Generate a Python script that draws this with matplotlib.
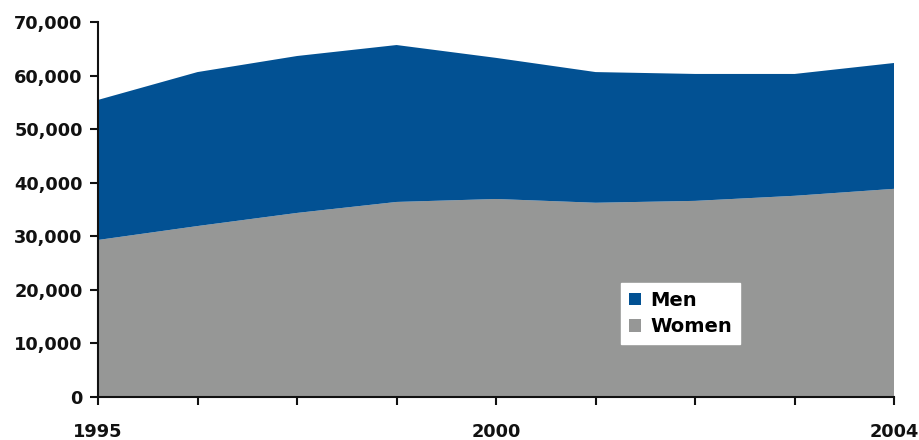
import matplotlib.pyplot as plt
import numpy as np

years = ["1995", "", "", "", "2000", "", "", "", "2004"]
women = [29300, 31900, 34350, 36400, 36950, 36250, 36600, 37550, 38850]
total = [55450, 60650, 63650, 65700, 63300, 60650, 60300, 60300, 62350]
men = [t - w for t, w in zip(total, women)]

plt.rcParams['font.family'] = ['DejaVu Sans']
plt.rcParams['font.weight'] = 'bold'

fig = plt.figure(figsize=(9.2, 4.4), dpi=100)
ax = fig.add_axes([0.1065, 0.098, 0.8655, 0.852])

x = np.arange(len(years))
ax.stackplot(x, women, men, colors=["#969796", "#025193"],
             labels=["Women", "Men"], lw=0)

ax.set_xlim(0, len(years) - 1)
ax.set_ylim(0, 70000)
ax.set_xticks(x)
ax.set_xticklabels(years)
ax.set_yticks(np.arange(0, 70001, 10000))
ax.set_yticklabels(["{:,}".format(v) for v in range(0, 70001, 10000)])

for s in ["top", "right"]:
    ax.spines[s].set_visible(False)
for s in ["left", "bottom"]:
    ax.spines[s].set_linewidth(1.5)
    ax.spines[s].set_color("#111111")
ax.tick_params(axis="both", length=6, width=1.5, color="#111111",
               labelsize=12.8, labelcolor="#111111")
ax.tick_params(axis="x", pad=13)
ax.tick_params(axis="y", pad=5)

h, l = ax.get_legend_handles_labels()
leg = ax.legend(h[::-1], l[::-1], loc="upper left",
                bbox_to_anchor=(0.657, 0.304), borderaxespad=0,
                frameon=True, fancybox=False,
                framealpha=1, edgecolor="white", fontsize=14,
                handlelength=0.6, handleheight=0.6, handletextpad=0.5,
                labelspacing=0.4, borderpad=0.4)

fig.savefig("out.png", dpi=100)
